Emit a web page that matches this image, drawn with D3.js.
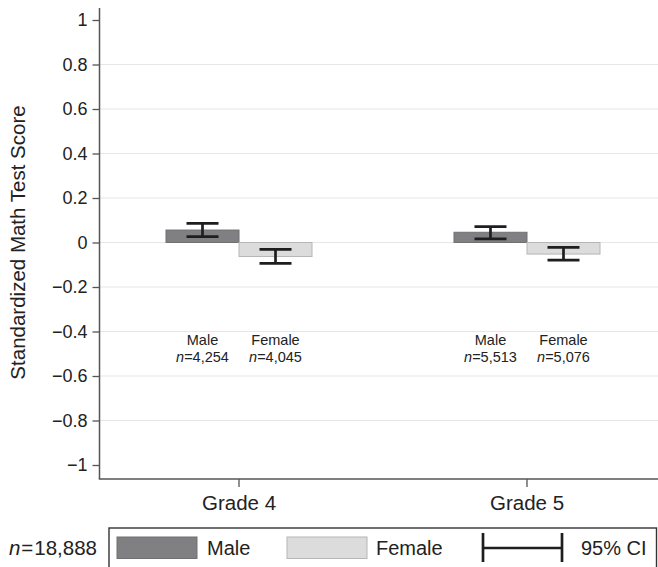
<!DOCTYPE html>
<html>
<head>
<meta charset="utf-8">
<script src="https://cdn.jsdelivr.net/npm/d3@7"></script>
<style>
  html, body { margin: 0; padding: 0; background: #fff; }
  svg { display: block; font-family: "Liberation Sans", Arial, Helvetica, sans-serif; }
</style>
</head>
<body>
<svg id="chart" width="658" height="567"></svg>
<script>
// ---- data ----
const grades = ["Grade 4", "Grade 5"];
const sexes = ["Male", "Female"];
const maleMean = [0.056, 0.046];
const femaleMean = [-0.063, -0.052];
const maleLo = [0.026, 0.016];
const maleHi = [0.086, 0.071];
const femaleLo = [-0.094, -0.079];
const femaleHi = [-0.031, -0.022];
const maleN = ["4,254", "5,513"];
const femaleN = ["4,045", "5,076"];
const yTicks = [1, 0.8, 0.6, 0.4, 0.2, 0, -0.2, -0.4, -0.6, -0.8, -1];
const gridTicks = [0.8, 0.6, 0.4, 0.2, 0, -0.2, -0.4, -0.6, -0.8];
const totalN = "18,888";
const yTitle = "Standardized Math Test Score";
const ciLabel = "95% CI";

const colors = { Male: "#808083", Female: "#dcdcdd" };
const strokes = { Male: "#707073", Female: "#b6b6b8" };

const svg = d3.select("#chart");
const W = 658, H = 567;
const axisX = 99.5, axisBottom = 479, axisTop = 8;

const y = d3.scaleLinear().domain([-1, 1]).range([465, 20]);
const x = d3.scaleBand().domain(grades).range([166, 600]).paddingInner(0.493).paddingOuter(0);
const xs = d3.scaleBand().domain(sexes).range([0, x.bandwidth()]);

const rows = grades.map((g, i) => [
  { grade: g, sex: "Male", mean: maleMean[i], lo: maleLo[i], hi: maleHi[i], n: maleN[i] },
  { grade: g, sex: "Female", mean: femaleMean[i], lo: femaleLo[i], hi: femaleHi[i], n: femaleN[i] }
]).flat();

// gridlines
svg.append("g").selectAll("line").data(gridTicks).join("line")
  .attr("x1", axisX).attr("x2", W)
  .attr("y1", d => y(d)).attr("y2", d => y(d))
  .attr("stroke", "#e6e6e6").attr("stroke-width", 1.2);

// bars
svg.append("g").selectAll("rect").data(rows).join("rect")
  .attr("x", d => x(d.grade) + xs(d.sex))
  .attr("width", xs.bandwidth())
  .attr("y", d => y(Math.max(0, d.mean)))
  .attr("height", d => Math.abs(y(d.mean) - y(0)))
  .attr("fill", d => colors[d.sex])
  .attr("stroke", d => strokes[d.sex])
  .attr("stroke-width", 1);

// error bars
const capW = 32;
const eb = svg.append("g").attr("stroke", "#1e1e1e").attr("stroke-width", 2.7);
rows.forEach(d => {
  const cx = x(d.grade) + xs(d.sex) + xs.bandwidth() / 2;
  eb.append("line").attr("x1", cx).attr("x2", cx).attr("y1", y(d.hi)).attr("y2", y(d.lo));
  eb.append("line").attr("x1", cx - capW / 2).attr("x2", cx + capW / 2).attr("y1", y(d.hi)).attr("y2", y(d.hi));
  eb.append("line").attr("x1", cx - capW / 2).attr("x2", cx + capW / 2).attr("y1", y(d.lo)).attr("y2", y(d.lo));
});

// sample size labels
const lab = svg.append("g").attr("font-size", 14.5).attr("fill", "#222").attr("text-anchor", "middle");
rows.forEach(d => {
  const cx = x(d.grade) + xs(d.sex) + xs.bandwidth() / 2;
  lab.append("text").attr("x", cx).attr("y", 345).text(d.sex);
  const t = lab.append("text").attr("x", cx).attr("y", 362);
  t.append("tspan").attr("font-style", "italic").text("n");
  t.append("tspan").text("=" + d.n);
});

// y axis
const yAxis = d3.axisLeft(y).tickValues(yTicks).tickSize(7).tickPadding(5)
  .tickFormat(d => d === 0 ? "0" : d3.format("")(d).replace("-", "\u2212"));
const gy = svg.append("g").attr("transform", `translate(${axisX},0)`).call(yAxis);
gy.select(".domain").remove();
gy.selectAll(".tick line").attr("stroke", "#555").attr("stroke-width", 1.3);
gy.selectAll(".tick text").attr("font-size", 18).attr("fill", "#222")
  .attr("font-family", "'Liberation Sans', Arial, sans-serif");
svg.append("line").attr("x1", axisX).attr("x2", axisX).attr("y1", axisTop).attr("y2", axisBottom)
  .attr("stroke", "#555").attr("stroke-width", 1.5);

// x axis
const xAxis = d3.axisBottom(x).tickSize(8).tickPadding(8);
const gx = svg.append("g").attr("transform", `translate(0,${axisBottom})`).call(xAxis);
gx.select(".domain").remove();
gx.selectAll(".tick line").attr("stroke", "#555").attr("stroke-width", 1.3);
gx.selectAll(".tick text").attr("font-size", 20.5).attr("fill", "#222")
  .attr("font-family", "'Liberation Sans', Arial, sans-serif");
svg.append("line").attr("x1", axisX - 0.75).attr("x2", W).attr("y1", axisBottom).attr("y2", axisBottom)
  .attr("stroke", "#555").attr("stroke-width", 1.5);

// y title
svg.append("text")
  .attr("transform", `translate(25,${y(0)}) rotate(-90)`)
  .attr("text-anchor", "middle").attr("font-size", 20.5).attr("fill", "#222")
  .text(yTitle);

// legend
const lg = svg.append("g");
const lgTop = 528, lgMid = 548;
lg.append("rect").attr("x", 109).attr("y", lgTop).attr("width", 547.5).attr("height", 60)
  .attr("fill", "none").attr("stroke", "#333").attr("stroke-width", 1.4);
const nt = lg.append("text").attr("x", 97).attr("y", lgMid).attr("dy", "0.35em")
  .attr("text-anchor", "end").attr("font-size", 20.5).attr("fill", "#222");
nt.append("tspan").attr("font-style", "italic").text("n");
nt.append("tspan").attr("dx", 1).text("=");
nt.append("tspan").attr("dx", 1).text(totalN);

const legendItems = [
  { key: "Male", sx: 117, tx: 207 },
  { key: "Female", sx: 287, tx: 376 }
];
legendItems.forEach(it => {
  lg.append("rect").attr("x", it.sx).attr("y", 537).attr("width", 80).attr("height", 21.5)
    .attr("fill", colors[it.key]).attr("stroke", strokes[it.key]).attr("stroke-width", 1);
  lg.append("text").attr("x", it.tx).attr("y", lgMid).attr("dy", "0.35em")
    .attr("font-size", 20).attr("fill", "#222").text(it.key);
});
const ci = lg.append("g").attr("stroke", "#1e1e1e").attr("stroke-width", 2.7);
ci.append("line").attr("x1", 483).attr("x2", 562).attr("y1", lgMid).attr("y2", lgMid);
ci.append("line").attr("x1", 483).attr("x2", 483).attr("y1", 533).attr("y2", 562);
ci.append("line").attr("x1", 562).attr("x2", 562).attr("y1", 533).attr("y2", 562);
lg.append("text").attr("x", 581).attr("y", lgMid).attr("dy", "0.35em")
  .attr("font-size", 20).attr("fill", "#222").text(ciLabel);
</script>
</body>
</html>
